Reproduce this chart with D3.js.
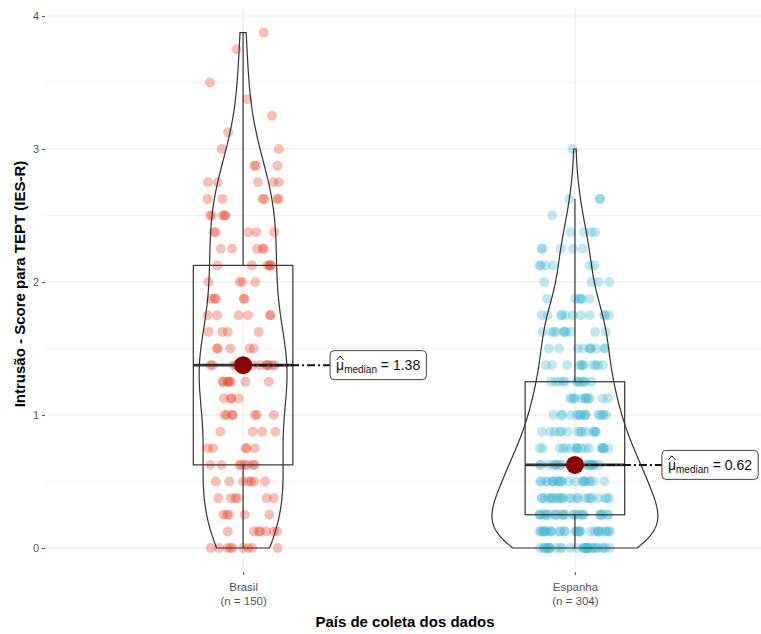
<!DOCTYPE html>
<html>
<head>
<meta charset="utf-8">
<script src="https://cdn.jsdelivr.net/npm/d3@7"></script>
<style>
  body { margin: 0; background: #fff; }
  text { font-family: "Liberation Sans", Arial, Helvetica, sans-serif; }
</style>
</head>
<body>
<svg id="chart" width="761" height="634"></svg>
<script>
// ---- data ---------------------------------------------------------------
const groups = ["Brasil", "Espanha"];
const groupColors = ["#E64B35", "#4DBBD5"];

// possible scores of the intrusion subscale (mean of 8 items, 0-4)
const scoreLevels = [0, 0.125, 0.25, 0.375, 0.5, 0.625, 0.75, 0.875,
                     1, 1.125, 1.25, 1.375, 1.5, 1.625, 1.75, 1.875,
                     2, 2.125, 2.25, 2.375, 2.5, 2.625, 2.75, 2.875,
                     3, 3.125, 3.25, 3.375, 3.5, 3.625, 3.75, 3.875, 4];

// number of respondents at each score level
const brasilCounts  = [9, 7, 5, 6, 7, 8, 5, 4,
                       7, 4, 8, 13, 5, 4, 6, 5,
                       4, 6, 5, 5, 5, 6, 5, 3,
                       2, 1, 1, 1, 1, 0, 1, 1, 0];
const espanhaCounts = [34, 30, 28, 24, 22, 22, 18, 14,
                       16, 12, 12, 11, 10, 10, 11, 6,
                       4, 6, 5, 4, 1, 3, 0, 0,
                       1, 0, 0, 0, 0, 0, 0, 0, 0];

const yTicks = [0, 1, 2, 3, 4];
const yMinorTicks = [0.5, 1.5, 2.5, 3.5];
const yTitle = "Intrusão - Score para TEPT (IES-R)";
const xTitle = "País de coleta dos dados";

// ---- helpers --------------------------------------------------------------
function expand(counts) {
  const out = [];
  counts.forEach((c, i) => { for (let k = 0; k < c; k++) out.push(scoreLevels[i]); });
  return out;
}
// R-style rounding (half to even) for the label text
function fmt2(v) {
  const s = v * 100, f = Math.floor(s), diff = s - f;
  let r;
  if (Math.abs(diff - 0.5) < 1e-9) r = (f % 2 === 0) ? f : f + 1;
  else r = Math.round(s);
  return (r / 100).toFixed(2);
}
// deterministic jitter
function mulberry32(a) {
  return function() {
    a |= 0; a = a + 0x6D2B79F5 | 0;
    let t = Math.imul(a ^ a >>> 15, 1 | a);
    t = t + Math.imul(t ^ t >>> 7, 61 | t) ^ t;
    return ((t ^ t >>> 14) >>> 0) / 4294967296;
  };
}
const rng = mulberry32(20200);

const data = [brasilCounts, espanhaCounts].map((c, gi) => {
  const values = expand(c).sort((a, b) => a - b);
  const n = values.length;
  const q1 = d3.quantile(values, 0.25), med = d3.quantile(values, 0.5), q3 = d3.quantile(values, 0.75);
  const iqr = q3 - q1;
  const lo = Math.min(d3.deviation(values), iqr / 1.34);
  const bw = 0.9 * lo * Math.pow(n, -0.2);
  const vmin = d3.min(values), vmax = d3.max(values);
  const grid = d3.range(512).map(i => vmin + (vmax - vmin) * i / 511);
  const dens = grid.map(y => {
    let s = 0;
    for (const v of values) { const z = (y - v) / bw; s += Math.exp(-0.5 * z * z); }
    return s / (n * bw * Math.sqrt(2 * Math.PI));
  });
  const upperW = d3.max(values.filter(v => v <= q3 + 1.5 * iqr));
  const lowerW = d3.min(values.filter(v => v >= q1 - 1.5 * iqr));
  return { name: groups[gi], color: groupColors[gi], values, n, q1, med, q3, grid, dens, upperW, lowerW };
});
const maxDens = d3.max(data, d => d3.max(d.dens));

// ---- scales -------------------------------------------------------------
const svg = d3.select("#chart");
const panel = { left: 45, right: 761, top: 8, bottom: 569 };
const x = d3.scalePoint().domain(groups).range([44, 774]).padding(0.6);
const step = x.step();
const y = d3.scaleLinear().domain([0, 4]).range([548, 16]);

// ---- grid -------------------------------------------------------------
const grid = svg.append("g");
grid.selectAll("line.minor").data(yMinorTicks).join("line")
  .attr("x1", panel.left).attr("x2", panel.right)
  .attr("y1", d => y(d)).attr("y2", d => y(d))
  .attr("stroke", "#f0f0f0").attr("stroke-width", 0.8);
grid.selectAll("line.major").data(yTicks).join("line")
  .attr("x1", panel.left).attr("x2", panel.right)
  .attr("y1", d => y(d)).attr("y2", d => y(d))
  .attr("stroke", "#ebebeb").attr("stroke-width", 1.1);
grid.selectAll("line.vert").data(groups).join("line")
  .attr("x1", d => x(d)).attr("x2", d => x(d))
  .attr("y1", panel.top).attr("y2", panel.bottom)
  .attr("stroke", "#ebebeb").attr("stroke-width", 1.1);

// ---- axes -------------------------------------------------------------
const yAxis = svg.append("g").attr("transform", `translate(${panel.left},0)`)
  .call(d3.axisLeft(y).tickValues(yTicks).tickFormat(d3.format("d")).tickSize(3).tickPadding(3));
yAxis.select(".domain").remove();
yAxis.selectAll(".tick line").attr("stroke", "#555").attr("stroke-width", 1);
yAxis.selectAll(".tick text").attr("fill", "#555").style("font-size", "11px");

const xAxis = svg.append("g").attr("transform", `translate(0,${panel.bottom + 3})`)
  .call(d3.axisBottom(x).tickSize(3).tickFormat(() => ""));
xAxis.select(".domain").remove();
xAxis.selectAll(".tick line").attr("stroke", "#555");
xAxis.selectAll(".tick").each(function(name) {
  const d = data.find(e => e.name === name);
  const t = d3.select(this).append("text").attr("text-anchor", "middle")
    .attr("fill", "#555").style("font-size", "11.5px");
  t.append("tspan").attr("x", 0).attr("y", 19).text(name);
  t.append("tspan").attr("x", 0).attr("y", 33).text(`(n = ${d.n})`);
});

svg.append("text").attr("x", (panel.left + 773) / 2 - 4).attr("y", 627)
  .attr("text-anchor", "middle").style("font-size", "15px").style("font-weight", "bold")
  .text(xTitle);
svg.append("text").attr("transform", `translate(25,${(y(0) + y(4)) / 2 + 2}) rotate(-90)`)
  .attr("text-anchor", "middle").style("font-size", "15px").style("font-weight", "bold")
  .text(yTitle);

// ---- points -------------------------------------------------------------
const pts = svg.append("g");
data.forEach(d => {
  pts.selectAll(null).data(d.values).join("circle")
    .attr("cx", () => x(d.name) + (rng() * 2 - 1) * 0.108 * step)
    .attr("cy", v => y(v))
    .attr("r", 5)
    .attr("fill", d.color).attr("fill-opacity", 0.35);
});

// ---- boxplots -------------------------------------------------------------
const boxHalf = 0.15 * step;
const boxes = svg.append("g").attr("stroke", "#333").attr("fill", "none");
data.forEach(d => {
  const cx = x(d.name);
  boxes.append("line").attr("x1", cx).attr("x2", cx).attr("y1", y(d.q3)).attr("y2", y(d.upperW)).attr("stroke-width", 1.2);
  boxes.append("line").attr("x1", cx).attr("x2", cx).attr("y1", y(d.q1)).attr("y2", y(d.lowerW)).attr("stroke-width", 1.2);
  boxes.append("rect").attr("x", cx - boxHalf).attr("width", 2 * boxHalf)
    .attr("y", y(d.q3)).attr("height", y(d.q1) - y(d.q3)).attr("stroke-width", 1.2);
  boxes.append("line").attr("x1", cx - boxHalf).attr("x2", cx + boxHalf)
    .attr("y1", y(d.med)).attr("y2", y(d.med)).attr("stroke-width", 2.6);
});

// ---- violins -------------------------------------------------------------
const violHalf = 0.25 * step;
const violins = svg.append("g");
data.forEach(d => {
  const cx = x(d.name);
  const right = d.grid.map((g, i) => [cx + d.dens[i] / maxDens * violHalf, y(g)]);
  const left = d.grid.map((g, i) => [cx - d.dens[i] / maxDens * violHalf, y(g)]).reverse();
  violins.append("path").attr("d", d3.line()(right.concat(left)) + "Z")
    .attr("fill", "none").attr("stroke", "#333").attr("stroke-width", 1.2);
});

// ---- median markers and labels ------------------------------------------
const labels = svg.append("g");
data.forEach(d => {
  const cx = x(d.name), cy = y(d.med);
  const lx = cx + 87;
  labels.append("line").attr("x1", cx).attr("x2", lx).attr("y1", cy).attr("y2", cy)
    .attr("stroke", "#111").attr("stroke-width", 2).attr("stroke-dasharray", "8,3,2,3");
  labels.append("circle").attr("cx", cx).attr("cy", cy).attr("r", 9).attr("fill", "#8B0000");
  const g = labels.append("g");
  const rect = g.append("rect").attr("fill", "#fff").attr("stroke", "#444").attr("stroke-width", 1)
    .attr("rx", 4).attr("ry", 4);
  const t = g.append("text").attr("x", lx + 6).attr("y", cy + 5).style("font-size", "14px").attr("fill", "#111");
  t.append("tspan").text("\u03BC");
  t.append("tspan").attr("dy", 3).style("font-size", "10px").text("median");
  t.append("tspan").attr("dy", -3).text(" = " + fmt2(d.med));
  // estimator hat over the mu
  const ext = t.node().getExtentOfChar(0);
  const hy = cy - 8;
  g.append("path")
    .attr("d", `M${ext.x + 0.5},${hy + 3}L${ext.x + ext.width / 2},${hy - 1}L${ext.x + ext.width - 0.5},${hy + 3}`)
    .attr("fill", "none").attr("stroke", "#111").attr("stroke-width", 1);
  const bb = t.node().getBBox();
  rect.attr("x", lx).attr("y", cy - 14.5).attr("width", bb.width + 12).attr("height", 29);
});
</script>
</body>
</html>
